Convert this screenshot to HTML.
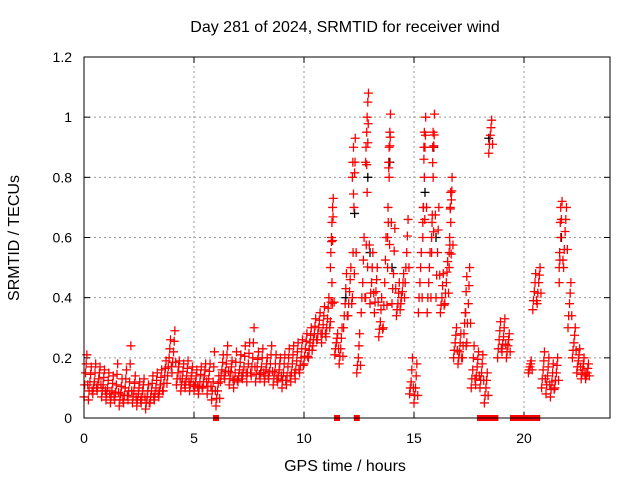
<!DOCTYPE html>
<html><head><meta charset="utf-8"><style>
body{margin:0;background:#fff;}
svg{display:block;font-family:"Liberation Sans",sans-serif;}
</style></head><body>
<svg id="chart" width="640" height="480" viewBox="0 0 640 480" xmlns="http://www.w3.org/2000/svg">
<rect width="640" height="480" fill="#fff"/>
<text x="345" y="32" font-size="16" text-anchor="middle">Day 281 of 2024, SRMTID for receiver wind</text>
<text x="0" y="0" font-size="16" text-anchor="middle" transform="translate(19,238) rotate(-90)">SRMTID / TECUs</text>
<text x="345" y="471" font-size="16" text-anchor="middle">GPS time / hours</text>
<g id="grid"></g>
<g id="ticks"></g>
<g id="marks"></g>
<rect x="84" y="57" width="526" height="361" fill="none" stroke="#000" stroke-width="1"/>
</svg>
<script>
const xTicks=[0,5,10,15,20];
const xTickLabels=["0","5","10","15","20"];
const yTicks=[0,0.2,0.4,0.6,0.8,1,1.2];
const yTickLabels=["0","0.2","0.4","0.6","0.8","1","1.2"];
const binStart=0, binStep=0.2;
const redLo=[.07,.06,.08,.09,.07,.06,.05,.06,.04,.05,.06,.05,.04,.05,.03,.05,.06,.07,.09,.14,.15,.11,.09,.10,.09,.09,.08,.10,.08,.06,.04,.12,.13,.11,.10,.12,.13,.12,.14,.12,.13,.12,.13,.11,.12,.10,.11,.12,.13,.15,.18,.20,.24,.26,.25,.27,.32,.21,.18,.30,.34,.40,.15,.35,.40,.38,.35,.27,.30,.50,.38,.34,.38,.45,.08,.05,.35,.60,.35,.55,.40,.35,.38,.50,.20,.18,.20,.25,.10,.11,.10,.05,.88,null,.20,.22,.20,null,null,null,null,.15,.36,.38,.10,.08,.07,.10,.45,.50,.30,.20,.15,.13,.13];
const redMid=[.15,.12,.12,.13,.11,.10,.09,.11,.08,.10,.12,.09,.08,.09,.07,.09,.10,.11,.14,.20,.22,.15,.13,.14,.13,.12,.12,.14,.13,.12,.09,.16,.18,.15,.15,.16,.17,.18,.20,.17,.17,.16,.18,.15,.16,.15,.17,.18,.19,.20,.23,.25,.28,.30,.31,.33,.45,.25,.23,.38,.42,.70,.20,.45,.75,.45,.42,.32,.45,.80,.48,.38,.42,.55,.12,.10,.45,.80,.45,.80,.55,.40,.45,.65,.25,.22,.28,.38,.16,.17,.15,.10,.94,null,.26,.27,.24,null,null,null,null,.17,.42,.45,.16,.14,.12,.15,.60,.62,.38,.25,.19,.16,.15];
const redHi=[.21,.17,.18,.17,.16,.15,.14,.18,.13,.16,.24,.14,.12,.13,.11,.14,.15,.16,.19,.26,.29,.19,.18,.19,.17,.16,.17,.18,.18,.22,.14,.21,.24,.19,.22,.21,.24,.25,.30,.22,.23,.20,.24,.21,.20,.21,.23,.24,.25,.26,.28,.30,.33,.35,.37,.40,.73,.28,.30,.48,.50,.93,.28,.60,1.08,.55,.50,.40,.60,1.01,.63,.45,.48,.66,.20,.18,.55,1.00,.55,1.01,.70,.48,.52,.80,.30,.28,.35,.50,.24,.22,.21,.15,.99,null,.32,.33,.28,null,null,null,null,.19,.48,.50,.22,.20,.18,.20,.72,.70,.45,.30,.23,.20,.18];
const spikeT=[11.2,11.22,11.25,11.27,11.3,12.2,12.22,12.25,12.8,12.82,12.85,12.87,12.9,13.8,13.82,13.85,13.87,13.9,15.4,15.42,15.45,15.47,15.8,15.82,15.85,15.87,16.6,16.62,16.65,16.67,21.6,21.62,21.65,21.67,17.35,17.37,17.4];
const spikeV=[.5,.55,.6,.65,.7,.8,.85,.9,.85,.9,.95,1.0,1.05,.6,.7,.85,.9,.95,.65,.7,.9,.95,.6,.65,.9,.95,.55,.6,.7,.75,.5,.55,.65,.7,.35,.42,.47];
const blackT=[11.9,12.9,13.9,14.0,15.5,15.9,16.0,18.4,12.3,13.0,21.7];
const blackV=[.40,.80,.85,.50,.75,.90,.60,.93,.68,.55,.60];
const zeroT=[6.0,11.5,12.4,18.0,18.1,18.3,18.5,18.6,18.7,19.5,19.6,19.7,19.8,19.9,20.0,20.1,20.2,20.3,20.4,20.5,20.6];

const X0=84,X1=610,Y0=418,Y1=57;
function xs(t){return X0+t*22.0;}
function ys(v){return Y0-(v/1.2)*(Y0-Y1);}
const NS="http://www.w3.org/2000/svg";
const grid=document.getElementById('grid'),ticks=document.getElementById('ticks'),marks=document.getElementById('marks');
function mk(tag,attrs,parent){const e=document.createElementNS(NS,tag);for(const k in attrs)e.setAttribute(k,attrs[k]);parent.appendChild(e);return e;}
xTicks.forEach((t,i)=>{
  const x=xs(t);
  if(i>0){const g=mk('line',{x1:x,y1:Y0,x2:x,y2:Y1,stroke:'#999','stroke-dasharray':'2,3'},grid);
  
  }
  mk('line',{x1:x,y1:Y0,x2:x,y2:Y0-6,stroke:'#000'},ticks);
  mk('line',{x1:x,y1:Y1,x2:x,y2:Y1+6,stroke:'#000'},ticks);
  const tx=mk('text',{x:x,y:443,'font-size':14,'text-anchor':'middle'},ticks);
  tx.textContent=xTickLabels[i];
  
  
});
yTicks.forEach((v,i)=>{
  const y=ys(v);
  if(i>0&&i<yTicks.length-1){const g=mk('line',{x1:X0,y1:y,x2:X1,y2:y,stroke:'#999','stroke-dasharray':'2,3'},grid);
  
  }
  mk('line',{x1:X0,y1:y,x2:X0+6,y2:y,stroke:'#000'},ticks);
  mk('line',{x1:X1,y1:y,x2:X1-6,y2:y,stroke:'#000'},ticks);
  const tx=mk('text',{x:72,y:y+5,'font-size':14,'text-anchor':'end'},ticks);
  tx.textContent=yTickLabels[i];
  
  
});
function cross(t,v,col,name){
  const x=xs(t),y=ys(v);
  const p=mk('path',{d:`M${x-4.5} ${y}H${x+4.5}M${x} ${y-4.5}V${y+4.5}`,stroke:col,'stroke-width':1.3,fill:'none'},marks);
  
  
}
blackT.forEach((t,i)=>cross(t,blackV[i],'#000','black-point'));
redLo.forEach((v,i)=>{
  const t=binStart+i*binStep;
  const m=redMid[i],h=redHi[i];
  if(v===null||m===null||h===null)return;
  cross(t,v,'#f00','red-point');
  cross(t+0.03,(v+m)/2,'#f00','red-point');
  cross(t+0.07,m,'#f00','red-point');
  cross(t+0.1,(m+h)/2,'#f00','red-point');
  cross(t+0.13,h,'#f00','red-point');
  cross(t+0.17,(v+m)/2,'#f00','red-point');
  if(h-v>0.3){
    cross(t+0.05,v+(h-v)*0.65,'#f00','red-point');
    cross(t+0.12,v+(h-v)*0.85,'#f00','red-point');
    cross(t+0.09,v+(h-v)*0.15,'#f00','red-point');
  }
});
spikeT.forEach((t,i)=>cross(t,spikeV[i],'#f00','red-point'));
zeroT.forEach(t=>{
  const r=mk('rect',{x:xs(t)-3,y:ys(0)-3,width:6,height:6,fill:'#f00'},marks);
  
  
});
</script>
</body></html>
